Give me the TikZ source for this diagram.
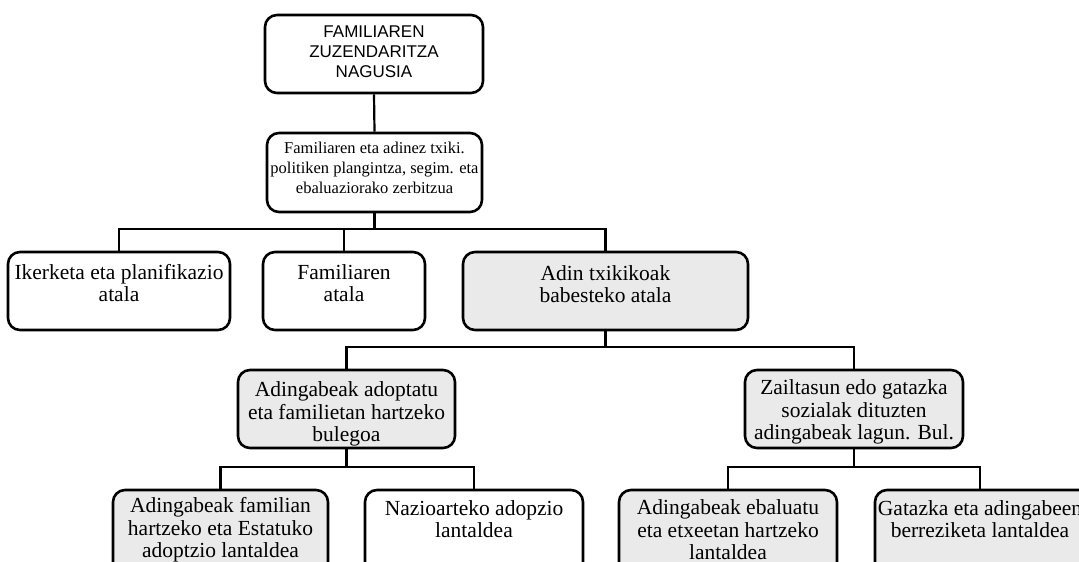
\documentclass[tikz,border=0pt]{standalone}
\usepackage{fontspec}
\setmainfont{Liberation Serif}
\newfontfamily\arialfont{Liberation Sans}
\definecolor{boxgray}{RGB}{234,234,234}
\begin{document}
\begin{tikzpicture}[x=1pt,y=-1pt,
  box/.style={draw=black,line width=2.6pt,rounded corners=12pt,inner sep=0pt},
  graybox/.style={box,fill=boxgray},
  whitebox/.style={box,fill=white},
  txt/.style={align=center,inner sep=0pt,font=\fontsize{21.5}{22.5}\selectfont},
  smalltxt/.style={align=center,inner sep=0pt,font=\fontsize{16.5}{20}\selectfont},
  sanstxt/.style={align=center,inner sep=0pt,font=\arialfont\fontsize{17}{20}\selectfont},
  conn/.style={line width=2.2pt},
  thickconn/.style={line width=3.4pt}]
\clip (0,0) rectangle (1079,562);
\fill[white] (0,0) rectangle (1079,562);
% boxes
\node[whitebox,minimum width=218pt,minimum height=78pt] (top) at (374,54) {};
\node[sanstxt] (toptxt) at (374,52) {FAMILIAREN\\ZUZENDARITZA\\NAGUSIA};
\node[whitebox,minimum width=215pt,minimum height=79pt] (serv) at (374.5,172.5) {};
\node[smalltxt] (servtxt) at (374.5,168) {Familiaren eta adinez txiki.\\politiken plangintza, segim. eta\\ebaluaziorako zerbitzua};
\node[whitebox,minimum width=222pt,minimum height=78pt] (iker) at (119,291) {};
\node[txt] (ikertxt) at (119,283) {Ikerketa eta planifikazio\\atala};
\node[whitebox,minimum width=162pt,minimum height=78pt] (fam) at (344,291) {};
\node[txt] (famtxt) at (344,283) {Familiaren\\atala};
\node[graybox,minimum width=285pt,minimum height=78pt] (adin) at (605.5,291) {};
\node[txt] (adintxt) at (605.5,284) {Adin txikikoak\\babesteko atala};
\node[graybox,minimum width=217pt,minimum height=78pt] (adop) at (346.5,409) {};
\node[txt] (adoptxt) at (346.5,414) {Adingabeak adoptatu\\eta familietan hartzeko\\bulegoa};
\node[graybox,minimum width=218pt,minimum height=78pt] (zail) at (854,409) {};
\node[txt] (zailtxt) at (854,412) {Zailtasun edo gatazka\\sozialak dituzten\\adingabeak lagun. Bul.};
\node[graybox,minimum width=215pt,minimum height=110pt] (afam) at (220.5,545) {};
\node[txt] (afamtxt) at (220.5,530) {Adingabeak familian\\hartzeko eta Estatuko\\adoptzio lantaldea};
\node[whitebox,minimum width=218pt,minimum height=110pt] (nazio) at (474,545) {};
\node[txt] (naziotxt) at (474,519) {Nazioarteko adopzio\\lantaldea};
\node[graybox,minimum width=218pt,minimum height=110pt] (ebal) at (728,545) {};
\node[txt] (ebaltxt) at (728,530) {Adingabeak ebaluatu\\eta etxeetan hartzeko\\lantaldea};
\node[graybox,minimum width=225pt,minimum height=110pt] (gat) at (987.5,545) {};
\node[txt] (gattxt) at (980,519) {Gatazka eta adingabeen\\berreziketa lantaldea};
% bus coordinates
\coordinate (bus1) at (0,229);
\coordinate (bus2) at (0,347);
\coordinate (bus3) at (0,467);
% connectors
\draw[conn] (top.south) -- (serv.north);
\draw[thickconn] (serv.south) -- (serv.south |- bus1);
\draw[conn] (iker.north) -- (iker.north |- bus1) -- (adin.north |- bus1) -- (adin.north);
\draw[conn] (fam.north) -- (fam.north |- bus1);
\draw[conn] (adin.south) -- (adin.south |- bus2);
\draw[conn] (adop.north) -- (adop.north |- bus2) -- (zail.north |- bus2) -- (zail.north);
\draw[conn] (adop.south) -- (adop.south |- bus3);
\draw[conn] (afam.north) -- (afam.north |- bus3) -- (nazio.north |- bus3) -- (nazio.north);
\draw[conn] (zail.south) -- (zail.south |- bus3);
\draw[conn] (ebal.north) -- (ebal.north |- bus3) -- (gattxt.center |- bus3) -- (gattxt.center |- gat.north);
\end{tikzpicture}
\end{document}
